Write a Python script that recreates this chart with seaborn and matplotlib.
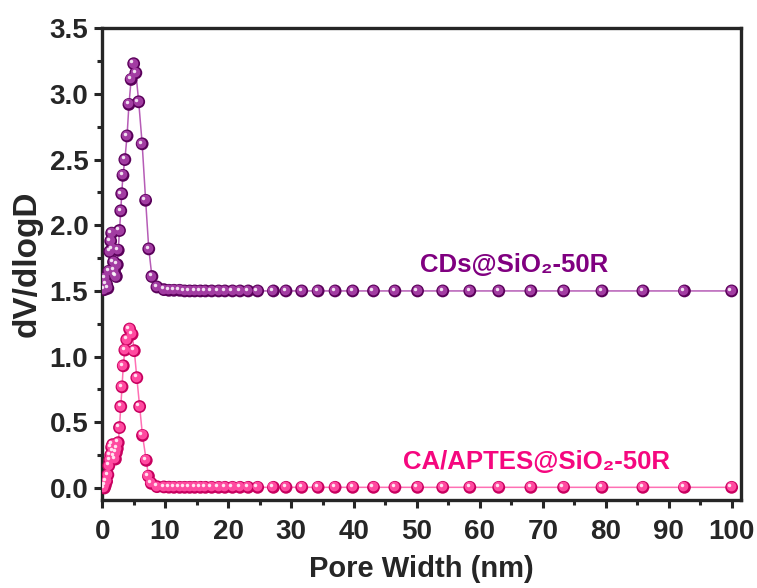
import numpy as np
import pandas as pd
import matplotlib
matplotlib.use("Agg")
import matplotlib.pyplot as plt
import matplotlib.transforms as mtransforms
import seaborn as sns

# pore widths (nm), low range read separately for each sample
pore_cd_low = [0.35, 0.5, 0.7, 0.9, 1.05, 1.2, 1.35, 1.5, 1.65, 1.8, 1.95, 2.1, 2.25, 2.4,
               2.55, 2.75, 2.95, 3.1, 3.3, 3.6, 3.95, 4.25, 4.6, 5.0, 5.35, 5.8, 6.35, 6.9,
               7.4, 7.9, 8.7]
dv_cd_low = [1.51, 1.60, 1.55, 1.52, 1.65, 1.80, 1.88, 1.94, 1.82, 1.72, 1.66, 1.62, 1.61, 1.70,
             1.81, 1.96, 2.11, 2.24, 2.38, 2.50, 2.68, 2.92, 3.11, 3.23, 3.16, 2.94, 2.62, 2.19,
             1.82, 1.61, 1.53]

pore_ca_low = [0.35, 0.5, 0.7, 0.9, 1.05, 1.2, 1.35, 1.5, 1.65, 1.8, 1.95, 2.1, 2.25, 2.4,
               2.55, 2.75, 2.95, 3.15, 3.35, 3.6, 3.9, 4.35, 4.75, 5.1, 5.5, 5.95, 6.4, 7.0,
               7.35, 7.8, 8.7]
dv_ca_low = [0.00, 0.02, 0.05, 0.10, 0.17, 0.21, 0.25, 0.31, 0.33, 0.28, 0.24, 0.22, 0.27, 0.30,
             0.345, 0.46, 0.62, 0.77, 0.93, 1.05, 1.13, 1.21, 1.17, 1.045, 0.84, 0.62, 0.40, 0.21,
             0.09, 0.035, 0.01]

# shared tail (larger pores)
pore_tail = [9.8, 10.6, 11.4, 12.3, 13.1, 13.9, 14.7, 15.6, 16.4, 17.4, 18.5, 19.5, 20.7, 21.9,
             23.2, 24.7, 27.2, 29.2, 31.7, 34.3, 37.0, 39.8, 43.1, 46.5, 50.1, 54.1, 58.4, 63.0,
             68.1, 73.3, 79.4, 85.9, 92.5, 100.0]
dv_cd_tail = [1.51, 1.505, 1.505, 1.505, 1.50, 1.50, 1.50, 1.50, 1.50, 1.50, 1.50, 1.50, 1.50,
              1.50, 1.50, 1.50, 1.50, 1.50, 1.50, 1.50, 1.50, 1.50, 1.50, 1.50, 1.50, 1.50, 1.50,
              1.50, 1.50, 1.50, 1.50, 1.50, 1.50, 1.50]
dv_ca_tail = [0.008, 0.006, 0.005, 0.005, 0.005, 0.005, 0.005, 0.005, 0.005, 0.005, 0.005, 0.005,
              0.005, 0.005, 0.005, 0.005, 0.005, 0.005, 0.005, 0.005, 0.005, 0.005, 0.005, 0.005,
              0.005, 0.005, 0.005, 0.005, 0.005, 0.005, 0.005, 0.005, 0.005, 0.005]

x_ticks = list(range(0, 101, 10))
y_ticks = [0.0, 0.5, 1.0, 1.5, 2.0, 2.5, 3.0, 3.5]

df_cd = pd.DataFrame({"pore": pore_cd_low + pore_tail, "dv": dv_cd_low + dv_cd_tail})
df_ca = pd.DataFrame({"pore": pore_ca_low + pore_tail, "dv": dv_ca_low + dv_ca_tail})

sns.set_style("ticks")
plt.rcParams["font.family"] = ["Liberation Sans", "DejaVu Sans"]
plt.rcParams["font.weight"] = "bold"

fig = plt.figure(figsize=(7.57, 5.88), dpi=100)
ax = fig.add_axes([0.135, 0.150, 0.844, 0.802])

series = [
    (df_cd, "#800080", "#5a005a", "#a23ca2", "#b65cb6"),
    (df_ca, "#f5077f", "#c8005f", "#ff4aa0", "#ff70b4"),
]
for d, col, dark, mid, line_col in series:
    sns.lineplot(data=d, x="pore", y="dv", ax=ax, color=line_col, linewidth=1.1,
                 sort=False, estimator=None, zorder=2)
    sns.scatterplot(data=d, x="pore", y="dv", ax=ax, color=dark, s=85,
                    edgecolor="none", linewidth=0, zorder=3)
    # shaded "ball" look
    t1 = mtransforms.offset_copy(ax.transData, fig=fig, x=-0.7, y=0.7, units="points")
    ax.plot(d["pore"], d["dv"], "o", ms=7.0, color=mid, mec="none", transform=t1, zorder=4)
    t2 = mtransforms.offset_copy(ax.transData, fig=fig, x=-1.6, y=1.6, units="points")
    ax.plot(d["pore"], d["dv"], "o", ms=2.5, color="white", alpha=0.85, mec="none",
            transform=t2, zorder=5)

ax.text(50.5, 1.70, "CDs@SiO\u2082-50R", color="#800080", fontsize=18.5, fontweight="bold",
        va="center", ha="left")
ax.text(47.8, 0.20, "CA/APTES@SiO\u2082-50R", color="#f5077f", fontsize=18.5, fontweight="bold",
        va="center", ha="left")

ax.set_xlim(0, 101.5)
ax.set_ylim(-0.09, 3.5)
ax.set_xticks(x_ticks)
ax.set_yticks(y_ticks)
ax.set_xticklabels([str(v) for v in x_ticks])
ax.set_yticklabels(["%.1f" % v for v in y_ticks])
ax.set_xticks(np.arange(5, 101, 10), minor=True)
ax.set_yticks(np.arange(0.25, 3.5, 0.5), minor=True)
ax.tick_params(axis="both", which="major", direction="out", length=6, width=2.2,
               labelsize=20, pad=4)
ax.tick_params(axis="x", which="major", pad=8)
ax.tick_params(axis="both", which="minor", direction="out", length=3.5, width=2.2)
for lab in ax.get_xticklabels() + ax.get_yticklabels():
    lab.set_fontweight("bold")
for sp in ax.spines.values():
    sp.set_visible(True)
    sp.set_linewidth(2.4)
ax.set_xlabel("Pore Width (nm)", fontsize=21, fontweight="bold", labelpad=7)
ax.set_ylabel("dV/dlogD", fontsize=24, fontweight="bold", labelpad=5)

fig.savefig("out.png", dpi=100)
